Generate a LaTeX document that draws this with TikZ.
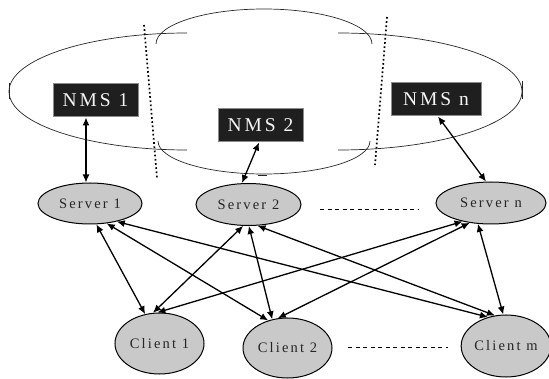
\documentclass[tikz,border=0pt]{standalone}
\usepackage{fontspec}
\setmainfont{Liberation Serif}
\newfontfamily\lblfont[LetterSpace=15]{Liberation Serif}
\usetikzlibrary{arrows.meta,shapes.geometric}

\begin{document}
\begin{tikzpicture}[x=1pt,y=1pt,
  nmsbox/.style={rectangle, fill=black!88, draw=black!45, line width=1pt,
    text=black!4, inner sep=0pt, font=\lblfont\fontsize{19.5}{19.5}\selectfont},
  hostnode/.style={ellipse, fill=black!21, draw=black, line width=1pt,
    inner sep=0pt, text=black!85, font=\lblfont\fontsize{14.5}{14.5}\selectfont},
  link/.style={line width=1.3pt,
    {Latex[length=8pt,width=7pt]}-{Latex[length=8pt,width=7pt]}},
  zoneline/.style={line width=0.7pt, black!85},
  divider/.style={line width=1.7pt, dash pattern=on 1.7pt off 2.5pt},
  gapline/.style={line width=0.8pt, dash pattern=on 4pt off 3.5pt}]

\useasboundingbox (0,0) rectangle (549,-379);

% management zones (open ellipses)
\draw[zoneline] (187,-33) arc[start angle=90, end angle=270, x radius=178, y radius=58.5];
\draw[zoneline] (9,-83) -- (9,-99);
\draw[zoneline] (156,-44) arc[start angle=180, end angle=0, x radius=108, y radius=35];
\draw[zoneline] (158,-141) arc[start angle=180, end angle=360, x radius=106, y radius=33];
\draw[zoneline] (258,-175.5) -- (267,-175.5);
\draw[zoneline] (338,-33) arc[start angle=90, end angle=-90, x radius=184, y radius=58.5];
\draw[zoneline] (522,-81) -- (522,-99);

% zone borders
\draw[divider] (144,-25) -- (157,-178);
\draw[divider] (387,-17) -- (375,-165);

% NMS boxes
\node[nmsbox, minimum width=85, minimum height=33] (nms1) at (95.5,-100.5) {NMS 1};
\node[nmsbox, minimum width=85, minimum height=33] (nms2) at (260.5,-125.5) {NMS 2};
\node[nmsbox, minimum width=90, minimum height=33] (nmsn) at (436,-99.5) {NMS n};

% servers
\node[hostnode, minimum width=104, minimum height=41] (s1) at (90,-203.5) {Server 1};
\node[hostnode, minimum width=105, minimum height=42] (s2) at (248.5,-204.5) {Server 2};
\node[hostnode, minimum width=110, minimum height=42] (sn) at (491,-203) {Server n};

% clients
\node[hostnode, minimum width=89, minimum height=61] (c1) at (159.5,-343.5) {Client 1};
\node[hostnode, minimum width=89, minimum height=60] (c2) at (287.5,-348) {Client 2};
\node[hostnode, minimum width=86, minimum height=62] (cm) at (506,-346) {Client m};

% ellipsis gaps
\coordinate (g1a) at (320,-209); \coordinate (g1b) at (418,-209);
\coordinate (g2a) at (348,-347); \coordinate (g2b) at (448,-347);
\draw[gapline] (g1a) -- (g1b);
\draw[gapline] (g2a) -- (g2b);

% NMS to server links
\draw[link] ([xshift=-9.5pt]nms1.south) -- ([xshift=-4pt]s1.north);
\draw[link] ([xshift=-1.5pt]nms2.south) -- ([xshift=-6.5pt]s2.north);
\draw[link] ([xshift=2pt]nmsn.south) -- ([xshift=-5pt]sn.north);

% server to client links
\draw[link] (s1.-73.6) -- (c1.116.7);
\draw[link] (s1.-50.6) -- (c2.125.8);
\draw[link] (s1.-34.3) -- (cm.122.5);
\draw[link] (s2.-104.7) -- (c1.102);
\draw[link] (s2.-89) -- (c2.118);
\draw[link] (s2.-67.7) -- (cm.110);
\draw[link] (sn.-147) -- (c1.94.7);
\draw[link] (sn.-137) -- (c2.108);
\draw[link] (sn.-122.6) -- (cm.95.5);
\end{tikzpicture}
\end{document}
